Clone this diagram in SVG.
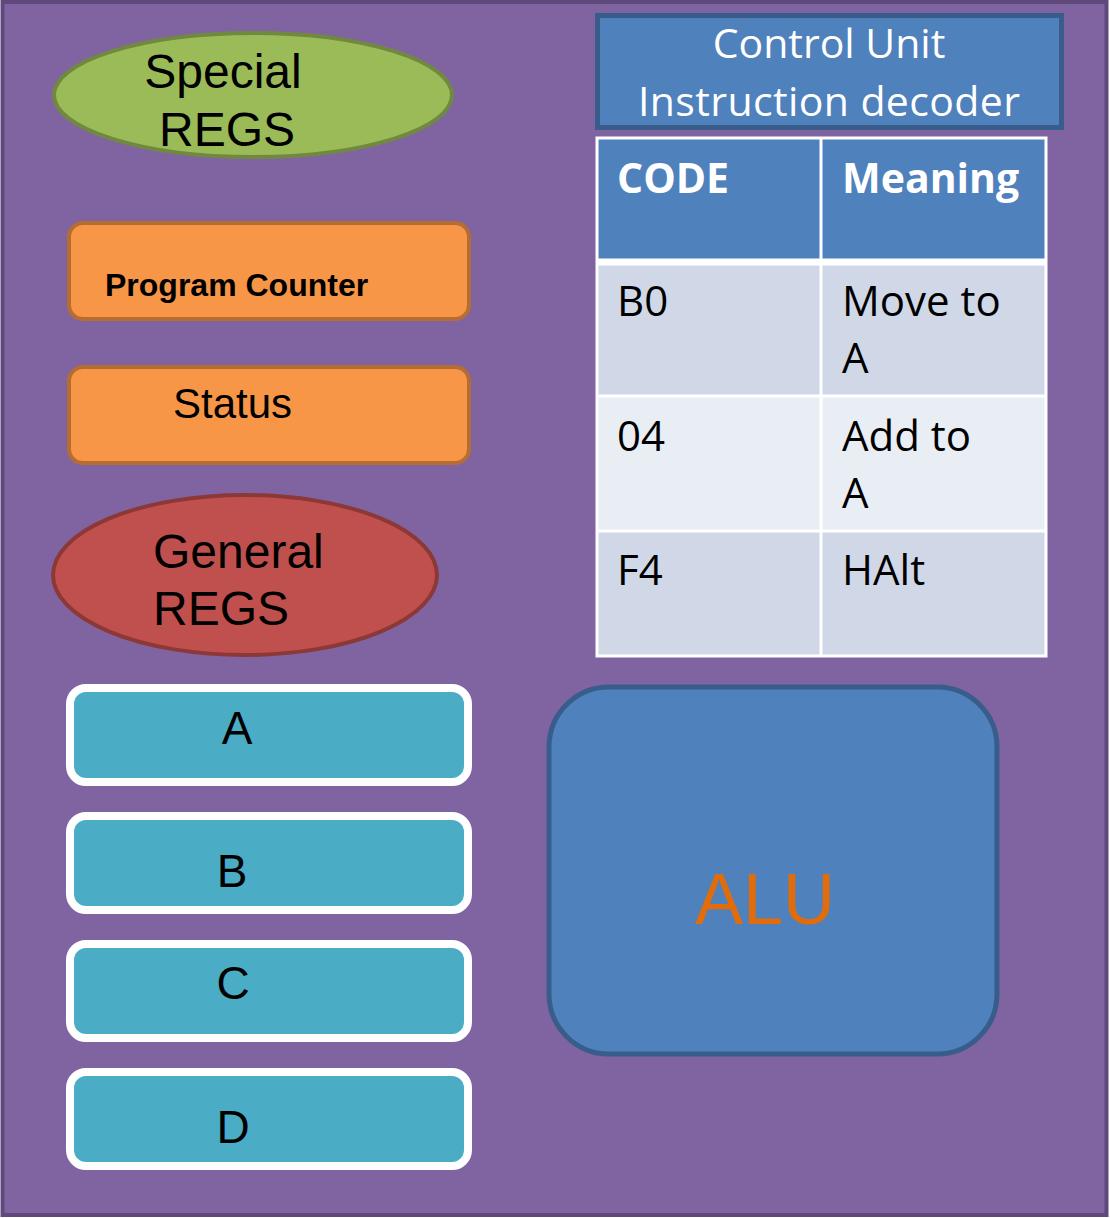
<svg xmlns="http://www.w3.org/2000/svg" width="1110" height="1218" viewBox="0 0 1110 1218">
  <style>
    .sans { font-family: "Liberation Sans", Arial, sans-serif; fill: #000; }
    .cal { font-family: "Open Sans", "Noto Sans", sans-serif; }
    .reg rect { fill: #4BACC6; stroke: #FFFFFF; stroke-width: 8; }
    .reg text { font-family: "Liberation Sans", Arial, sans-serif; font-size: 46px; text-anchor: middle; fill: #000; }
    .orange rect { fill: #F79646; stroke: #B66D31; stroke-width: 4; }
    .cell-text { font-family: "Open Sans", "Noto Sans", sans-serif; font-size: 42px; fill: #000; }
    .head-text { font-family: "Open Sans", "Noto Sans", sans-serif; font-size: 41px; font-weight: bold; fill: #FFFFFF; }
  </style>

  <!-- canvas -->
  <rect x="2.5" y="2" width="1104" height="1213" fill="#8064A2" stroke="#5F497A" stroke-width="4"/>

  <g id="special-regs">
    <ellipse cx="253" cy="95" rx="199" ry="62" fill="#9BBB59" stroke="#71893F" stroke-width="4"/>
    <text class="sans" font-size="48" text-anchor="middle" x="223" y="88">Special</text>
    <text class="sans" font-size="48" text-anchor="middle" x="227" y="146">REGS</text>
  </g>

  <g id="program-counter" class="orange">
    <rect x="69" y="223" width="400" height="96" rx="14"/>
    <text class="sans" font-size="32" font-weight="bold" x="105" y="296">Program Counter</text>
  </g>

  <g id="status" class="orange">
    <rect x="69" y="367" width="400" height="96" rx="14"/>
    <text class="sans" font-size="42" x="173" y="418">Status</text>
  </g>

  <g id="general-regs">
    <ellipse cx="245" cy="575" rx="192" ry="80" fill="#C0504D" stroke="#8C3836" stroke-width="4"/>
    <text class="sans" font-size="48" x="153" y="568">General</text>
    <text class="sans" font-size="48" x="153" y="625">REGS</text>
  </g>

  <g id="reg-a" class="reg">
    <rect x="70" y="688" width="398" height="94" rx="16"/>
    <text x="237" y="744">A</text>
  </g>
  <g id="reg-b" class="reg">
    <rect x="70" y="816" width="398" height="94" rx="16"/>
    <text x="232" y="887">B</text>
  </g>
  <g id="reg-c" class="reg">
    <rect x="70" y="944" width="398" height="94" rx="16"/>
    <text x="233" y="999">C</text>
  </g>
  <g id="reg-d" class="reg">
    <rect x="70" y="1072" width="398" height="94" rx="16"/>
    <text x="233" y="1143">D</text>
  </g>

  <g id="control-unit">
    <rect x="597.5" y="15.5" width="464" height="112" fill="#4F81BD" stroke="#385D8A" stroke-width="5"/>
    <text class="cal" font-size="41" fill="#FFFFFF" text-anchor="middle" x="829" y="58">Control Unit</text>
    <text class="cal" font-size="41" fill="#FFFFFF" text-anchor="middle" x="829" y="116" textLength="382" lengthAdjust="spacing">Instruction decoder</text>
  </g>

  <g id="decoder-table">
    <!-- header row -->
    <rect x="597" y="138" width="449" height="123" fill="#4F81BD"/>
    <!-- body rows -->
    <rect x="597" y="264" width="449" height="132" fill="#D0D8E8"/>
    <rect x="597" y="396" width="449" height="135" fill="#E9EDF4"/>
    <rect x="597" y="531" width="449" height="125" fill="#D0D8E8"/>
    <!-- grid -->
    <g stroke="#FFFFFF" fill="none">
      <rect x="597" y="138" width="449" height="518" stroke-width="3"/>
      <line x1="821" y1="138" x2="821" y2="656" stroke-width="3"/>
      <line x1="597" y1="262" x2="1046" y2="262" stroke-width="7"/>
      <line x1="597" y1="396" x2="1046" y2="396" stroke-width="3"/>
      <line x1="597" y1="531" x2="1046" y2="531" stroke-width="3"/>
    </g>
    <text class="head-text" x="617" y="193">CODE</text>
    <text class="head-text" x="842" y="193">Meaning</text>
    <text class="cell-text" x="617" y="316">B0</text>
    <text class="cell-text" x="842" y="316">Move to</text>
    <text class="cell-text" x="842" y="373">A</text>
    <text class="cell-text" x="617" y="451">04</text>
    <text class="cell-text" x="842" y="451">Add to</text>
    <text class="cell-text" x="842" y="508">A</text>
    <text class="cell-text" x="617" y="585">F4</text>
    <text class="cell-text" x="842" y="585">HAlt</text>
  </g>

  <g id="alu">
    <rect x="549" y="687" width="448" height="367" rx="60" fill="#4F81BD" stroke="#385D8A" stroke-width="5"/>
    <text class="sans" font-size="72" style="fill:#E36C0A" text-anchor="middle" x="765" y="924">ALU</text>
  </g>

  <!-- no connectors are drawn between the units -->
  <g id="connectors"/>
</svg>
